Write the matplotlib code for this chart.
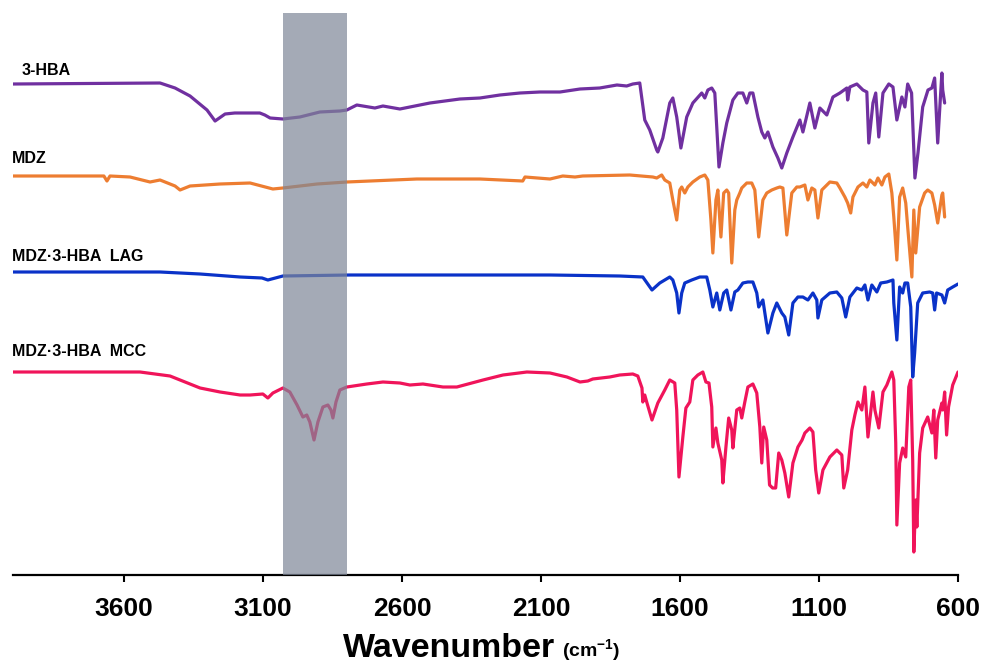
import matplotlib
matplotlib.use("Agg")
import matplotlib.pyplot as plt

plt.rcParams['font.family'] = ['Liberation Sans', 'DejaVu Sans']
plt.rcParams['mathtext.fontset'] = 'custom'
plt.rcParams['mathtext.rm'] = 'Liberation Sans:bold'
plt.rcParams['mathtext.bf'] = 'Liberation Sans:bold'

# ---- data: wavenumber (cm-1) and offset transmittance (a.u.) ----
hba_wn = [4000, 3471, 3417, 3363, 3302, 3273, 3237, 3202, 3112, 3094, 3075, 3029, 2968, 2896, 2824, 2799,
          2763, 2698, 2669, 2608, 2572, 2500, 2392, 2320, 2248, 2176, 2104, 2032, 1960, 1889, 1827, 1792,
          1770, 1745, 1727, 1709, 1684, 1680, 1662, 1637, 1626, 1612, 1597, 1576, 1554, 1522, 1511, 1500,
          1486, 1475, 1468, 1460, 1446, 1432, 1410, 1392, 1374, 1360, 1349, 1338, 1320, 1306, 1295, 1284,
          1266, 1248, 1234, 1216, 1194, 1169, 1158, 1133, 1115, 1097, 1072, 1050, 1025, 1000, 997, 989,
          964, 942, 928, 921, 906, 896, 885, 870, 849, 834, 820, 802, 791, 781, 767, 755, 744, 727, 708,
          694, 684, 673, 658, 655, 648]
hba_t = [49.1, 49.2, 48.7, 47.9, 46.5, 45.4, 46.1, 46.2, 46.2, 46.0, 45.7, 45.6, 45.8, 46.3, 46.4, 46.5,
         47.0, 46.7, 46.9, 46.6, 46.8, 47.2, 47.6, 47.7, 48.0, 48.2, 48.3, 48.3, 48.6, 48.7, 49.0, 48.9,
         49.1, 49.2, 45.5, 44.5, 42.5, 42.3, 43.7, 47.2, 47.7, 45.8, 42.7, 45.8, 47.2, 48.2, 47.7, 48.5,
         48.7, 48.2, 44.8, 40.8, 43.2, 45.2, 47.5, 48.2, 48.2, 47.2, 48.2, 48.2, 45.8, 44.3, 43.7, 44.3,
         42.8, 41.7, 40.7, 42.2, 43.8, 45.5, 44.3, 47.2, 44.7, 46.7, 46.0, 47.8, 48.2, 48.7, 47.5, 48.8,
         49.1, 48.5, 48.3, 43.2, 47.2, 48.2, 43.8, 48.2, 49.1, 48.8, 45.5, 47.8, 46.8, 49.1, 48.2, 39.7,
         42.2, 46.8, 48.5, 48.7, 49.7, 43.2, 50.2, 48.5, 47.2]

mdz_wn = [4000, 3687, 3673, 3662, 3651, 3579, 3507, 3471, 3417, 3399, 3363, 3255, 3147, 3065, 3029, 2906,
          2799, 2547, 2320, 2166, 2158, 2068, 2022, 1978, 1950, 1781, 1698, 1684, 1666, 1655, 1637, 1626,
          1612, 1601, 1594, 1583, 1572, 1554, 1529, 1511, 1500, 1489, 1482, 1471, 1464, 1453, 1443, 1432,
          1425, 1414, 1403, 1396, 1385, 1378, 1360, 1342, 1331, 1317, 1302, 1288, 1270, 1252, 1241, 1230,
          1216, 1198, 1180, 1169, 1151, 1140, 1126, 1115, 1104, 1090, 1061, 1036, 1025, 1007, 997, 986,
          978, 960, 942, 928, 917, 899, 888, 874, 863, 849, 838, 831, 820, 810, 799, 788, 781, 766, 759,
          752, 738, 720, 709, 694, 684, 673, 658, 655, 648]
mdz_t = [39.9, 39.9, 39.9, 39.4, 39.9, 39.8, 39.3, 39.5, 38.9, 38.5, 38.9, 39.1, 39.2, 38.6, 38.7, 39.1,
         39.3, 39.6, 39.6, 39.4, 39.8, 39.6, 39.9, 39.8, 39.9, 40.0, 39.8, 39.7, 40.0, 39.5, 39.2, 37.5,
         35.5, 38.5, 38.8, 38.2, 38.8, 39.3, 39.8, 40.0, 39.5, 35.5, 32.2, 37.5, 38.5, 33.8, 38.2, 38.5,
         38.2, 31.2, 36.5, 37.5, 38.2, 38.7, 39.2, 39.2, 38.5, 33.8, 37.5, 38.2, 38.5, 38.7, 38.8, 38.7,
         34.0, 38.2, 38.8, 38.8, 39.0, 37.5, 38.7, 38.5, 35.7, 38.5, 39.3, 39.2, 38.7, 37.8, 37.2, 36.2,
         37.8, 38.8, 39.2, 38.8, 39.5, 39.0, 39.7, 39.0, 39.8, 40.1, 38.2, 35.8, 31.5, 37.8, 38.7, 37.2,
         34.8, 29.8, 36.5, 32.2, 36.8, 38.2, 38.5, 38.2, 37.0, 35.2, 38.0, 38.2, 35.8]

lag_wn = [4000, 3471, 3327, 3183, 3104, 3083, 3029, 2788, 2428, 2068, 1817, 1734, 1701, 1673, 1637, 1626,
          1612, 1604, 1594, 1583, 1558, 1529, 1504, 1493, 1482, 1468, 1457, 1443, 1432, 1417, 1403, 1392,
          1374, 1356, 1338, 1324, 1317, 1302, 1284, 1266, 1252, 1234, 1223, 1209, 1194, 1176, 1158, 1140,
          1122, 1108, 1104, 1090, 1061, 1036, 1018, 1004, 989, 964, 946, 935, 924, 910, 892, 878, 856,
          834, 831, 820, 810, 799, 791, 781, 770, 763, 756, 745, 727, 702, 691, 684, 677, 658, 648, 637,
          619, 600]
lag_t = [30.3, 30.3, 30.1, 29.8, 29.7, 29.5, 29.9, 30.0, 30.0, 30.0, 29.9, 29.8, 28.5, 29.2, 29.8, 29.5,
         28.2, 26.2, 28.2, 29.2, 29.5, 29.8, 29.8, 28.5, 26.8, 28.2, 26.5, 28.2, 28.5, 26.5, 28.3, 28.5,
         29.2, 29.3, 29.3, 28.2, 26.8, 27.5, 24.2, 26.2, 27.2, 26.2, 25.8, 24.0, 27.2, 27.8, 27.8, 27.5,
         28.2, 27.5, 25.7, 27.5, 28.2, 28.3, 27.7, 25.8, 27.8, 28.7, 28.5, 29.0, 27.5, 29.0, 28.3, 29.2, 29.3,
         29.5, 27.2, 23.5, 28.8, 28.2, 29.2, 29.2, 26.8, 19.8, 22.2, 27.2, 28.2, 28.3, 28.2, 26.5, 28.2,
         28.0, 27.2, 28.5, 28.8, 29.1]

mcc_wn = [4000, 3543, 3435, 3327, 3255, 3183, 3147, 3101, 3083, 3065, 3029, 3004, 2978, 2957, 2943, 2932,
          2917, 2903, 2885, 2867, 2856, 2849, 2838, 2824, 2799, 2727, 2669, 2608, 2572, 2525, 2453, 2403,
          2309, 2237, 2151, 2068, 2007, 1960, 1932, 1914, 1853, 1817, 1770, 1752, 1737, 1734, 1727, 1720,
          1701, 1680, 1655, 1637, 1619, 1612, 1604, 1590, 1579, 1565, 1554, 1536, 1518, 1507, 1496, 1486,
          1482, 1471, 1464, 1450, 1446, 1435, 1425, 1414, 1410, 1396, 1385, 1378, 1367, 1356, 1338, 1324,
          1313, 1306, 1299, 1288, 1278, 1267, 1256, 1245, 1234, 1223, 1209, 1194, 1176, 1161, 1151, 1133,
          1122, 1112, 1101, 1086, 1061, 1036, 1018, 1011, 997, 982, 971, 960, 946, 935, 924, 906, 899, 885,
          870, 856, 838, 831, 824, 820, 810, 799, 788, 777, 770, 763, 759, 752, 748, 738, 727, 709, 694,
          687, 680, 673, 658, 655, 648, 641, 634, 619, 600]
mcc_t = [20.3, 20.3, 19.9, 18.7, 18.3, 18.0, 18.0, 18.1, 17.7, 18.2, 18.7, 18.3, 17.0, 15.8, 16.0, 15.3,
         13.5, 15.3, 16.8, 17.0, 16.5, 15.7, 17.3, 18.5, 18.8, 19.1, 19.3, 19.2, 19.0, 19.1, 18.8, 18.8,
         19.5, 20.0, 20.3, 20.2, 19.8, 19.3, 19.4, 19.6, 19.8, 20.0, 20.1, 19.9, 18.7, 17.3, 18.0, 17.3,
         15.5, 17.2, 18.5, 19.5, 19.2, 16.5, 9.8, 13.8, 16.7, 17.3, 19.5, 20.0, 20.3, 19.3, 19.2, 16.8,
         12.8, 14.7, 13.2, 11.5, 9.2, 12.8, 15.7, 14.5, 12.7, 16.5, 16.7, 15.7, 17.3, 18.8, 19.1, 18.2,
         14.8, 11.2, 14.8, 13.5, 9.0, 8.7, 8.7, 12.2, 11.5, 10.2, 7.8, 11.2, 12.8, 13.5, 14.2, 14.7,
         14.3, 10.5, 8.2, 10.5, 11.8, 12.5, 12.0, 8.7, 10.5, 14.5, 16.0, 17.3, 16.5, 18.8, 13.8, 18.3, 16.5, 14.7,
         18.3, 19.0, 20.3, 19.5, 13.2, 5.0, 11.2, 12.7, 11.8, 18.8, 19.5, 11.5, 2.3, 7.5, 4.8, 12.2, 14.7, 15.8, 14.2,
         16.5, 11.7, 15.5, 17.2, 16.5, 18.3, 14.0, 16.8, 19.0, 20.3]

series_names = ['3-HBA', 'MDZ', 'MDZ\u00b73-HBA  LAG', 'MDZ\u00b73-HBA  MCC']
series_colors = ['#7030A0', '#ED7D31', '#0A32C8', '#F0145A']
tick_values = [3600, 3100, 2600, 2100, 1600, 1100, 600]
band_range = (3030, 2800)

fig = plt.figure(figsize=(9.84, 6.66), dpi=100)
ax = fig.add_axes([13/984, 91/666, 945/984, 562/666])

for wn, t, c in zip([hba_wn, mdz_wn, lag_wn, mcc_wn], [hba_t, mdz_t, lag_t, mcc_t], series_colors):
    ax.plot(wn, t, color=c, lw=2.3, solid_joinstyle='round', solid_capstyle='round', zorder=2)

ax.axvspan(band_range[0], band_range[1], color='#7E8798', alpha=0.7, lw=0, zorder=3)

label_pos = [(3968, 50.0), (4003, 41.2), (4003, 31.4), (4003, 21.9)]
for name, (x, y) in zip(series_names, label_pos):
    ax.text(x, y, name, fontsize=11.5, fontweight='bold', ha='left', va='baseline', color='black')

ax.set_xlim(4000, 600)
ax.set_ylim(0, 56.2)
ax.set_xticks(tick_values)
ax.set_xticklabels([str(v) for v in tick_values], fontsize=19, fontweight='bold')
ax.tick_params(axis='x', direction='out', length=5, width=1.5, pad=11, colors='black')
ax.set_yticks([])
for s in ['left', 'right', 'top']:
    ax.spines[s].set_visible(False)
ax.spines['bottom'].set_linewidth(1.6)

fig.text(555/984, 9/666, 'Wavenumber', fontsize=24.5, fontweight='bold', ha='right', va='baseline')
fig.text(562/984, 9/666, r'(cm$^{-1}$)', fontsize=14, fontweight='bold', ha='left', va='baseline')

fig.savefig('out.png', dpi=100)
